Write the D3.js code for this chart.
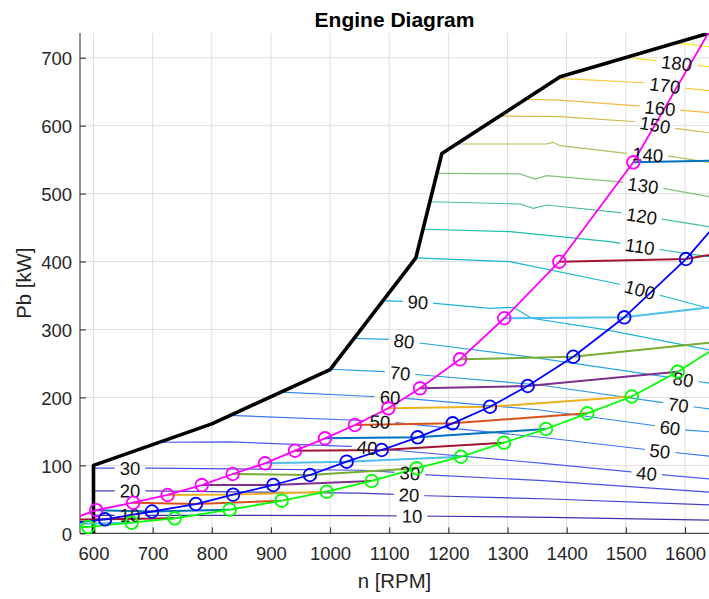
<!DOCTYPE html>
<html>
<head>
<meta charset="utf-8">
<script src="https://cdn.jsdelivr.net/npm/d3@7"></script>
<style>
  body { margin: 0; background: #fff; }
  svg { display: block; }
</style>
</head>
<body>
<svg id="chart" width="709" height="599"></svg>
<script>
// ---------- axis ticks ----------
const xTicks = [600, 700, 800, 900, 1000, 1100, 1200, 1300, 1400, 1500, 1600];
const yTicks = [0, 100, 200, 300, 400, 500, 600, 700];

// ---------- engine limit (black envelope) ----------
const envelopeRpm   = [600, 600, 800, 1000, 1145, 1189, 1389, 1640, 1700];
const envelopePower = [0, 100, 161, 241, 405.5, 559, 672, 736, 751];

// ---------- contour levels and their traced lines ----------
const levels = [10, 20, 30, 40, 50, 60, 70, 80, 90, 100, 110, 120, 130, 140, 150, 160, 170, 180, 190];
const contourRpm = [
  [600, 800, 1050, 1140, 1372, 1640.6],
  [600, 690, 1050, 1133, 1163, 1372, 1640.6],
  [600, 700, 1050, 1135, 1166, 1360, 1640.6],
  [711, 830, 1045, 1100, 1360, 1535, 1640.6],
  [831, 1034, 1084, 1115, 1360, 1541, 1586, 1640.6],
  [918, 1079, 1123, 1355, 1575, 1603, 1640.6],
  [1000, 1093, 1155, 1355, 1589, 1620, 1640.6],
  [1041, 1101, 1155, 1355, 1597, 1625, 1640.6],
  [1089.5, 1148.6, 1177.3, 1270.3, 1309.7, 1340.8, 1467.6, 1640.6],
  [1145, 1304, 1495.7, 1560.6, 1640.6],
  [1157.5, 1304, 1473, 1563, 1640.6],
  [1169, 1321, 1343.5, 1366, 1490, 1562.8, 1640.6],
  [1181, 1321, 1346.4, 1366.2, 1484.5, 1563.3, 1640.6],
  [1214, 1366.2, 1376.8, 1388.7, 1501.4, 1571.3, 1640.6],
  [1288, 1388.6, 1518.4, 1583, 1640.6],
  [1332, 1388.6, 1524, 1591.6, 1640.6],
  [1385, 1532.4, 1602.9, 1640.6],
  [1501.4, 1552.1, 1614, 1640.6],
  [1588, 1640.6]
];
const contourPower = [
  [26.5, 26.5, 26, 25.5, 23.5, 19.5],
  [62.3, 62.5, 59, 56.5, 55.3, 50.5, 41.7],
  [96, 96, 92.8, 88.5, 86, 77.5, 60.5],
  [134, 134.5, 127.5, 123, 103, 88.3, 80],
  [173.6, 166.8, 164.3, 162.4, 141, 122.6, 118.6, 113.7],
  [207.8, 201, 199.1, 181.5, 155.4, 152, 149.5],
  [241.5, 237.9, 233, 218.3, 188.9, 185.5, 183],
  [287, 285.5, 279.7, 257.6, 226.7, 223.1, 221],
  [342.4, 340.4, 338.5, 331.2, 332.6, 316.5, 299.3, 269.9],
  [405.5, 399.8, 365.5, 349.7, 331.2],
  [447.5, 443.9, 429.2, 417, 407.1],
  [488, 484.7, 478.4, 483.2, 471.9, 462.2, 451.3],
  [529.9, 528.9, 521.5, 526.4, 517.5, 507.8, 495.4],
  [573, 573, 575.5, 570.5, 559.3, 555.4, 546.1],
  [614.2, 613.2, 605.8, 596.1, 589.6],
  [638.8, 637.7, 628.9, 623, 619.1],
  [669.7, 663.2, 655, 651.5],
  [700.6, 695.6, 689.3, 686.8],
  [721.5, 716.2]
];
// speed (rpm) at which each contour carries its inline value label
const labelRpm = [
  [661.7, 1138.5], [661.7, 1133.4], [661.7, 1135],
  [1062.4, 1535.3], [1084.4, 1557.8], [1101.3, 1574.7], [1118.2, 1588.7], [1125, 1597],
  [1148.6], [1523.9], [1523.9], [1526.8], [1529], [1537], [1549.3], [1557.8], [1566.2], [1586], []
];

// ---------- propeller curves (points share a speed step across the three curves) ----------
const speedStep  = [3, 4, 5, 6, 7, 8, 9, 10, 11, 12, 13, 14, 15, 16, 17, 18, 19, 20, 21, 22];
const pinkRpm    = [380, 440, 500, 560, 604.7, 667, 725.2, 783, 835.3, 890, 940.7, 991.4, 1042, 1098.4, 1152, 1219.6, 1294.5, 1387.5, 1512.6, 1660];
const pinkPower  = [2, 5, 9, 20, 34, 45, 56.4, 71, 87.3, 103, 121.6, 139.8, 159.4, 184, 213.4, 256.1, 316.5, 399.8, 546.1, 767];
const blueRpm    = [410, 475, 545, 619.6, 698.9, 773, 836, 904, 966, 1028, 1087.2, 1148, 1207.3, 1270.3, 1334, 1411.1, 1497.4, 1601.7, 1747, 1915];
const bluePower  = [4.5, 8, 13.5, 20.6, 32.1, 43.1, 57, 71.1, 85.8, 105.4, 122.6, 141.3, 161.9, 186.3, 216.8, 259.9, 317.9, 403.7, 550, 772];
const greenRpm   = [520, 591.2, 664.6, 737.3, 830.3, 918.2, 994.3, 1070.3, 1146.4, 1221.3, 1294, 1365, 1434.8, 1509.9, 1587.7, 1670, 1786, 1915, 2087, 2290];
const greenPower = [5, 9.5, 15.6, 22.1, 34.8, 48, 61.2, 77, 95.7, 112.7, 133.4, 153.5, 176.6, 201.4, 237.9, 283, 347, 452, 611, 860];

// ---------- layout & styles ----------
const W = 709, H = 599;
const area = { left: 80, right: 709, top: 33, bottom: 533.3 };
const FONT = '"Liberation Sans", Arial, Helvetica, sans-serif';
const INK = '#262626';
const colorOrder = ['#0072BD', '#D95319', '#EDB120', '#7E2F8E', '#77AC30', '#4DBEEE', '#A2142F'];
const levelColor = d3.scaleLinear()
  .domain([10, 20, 30, 40, 50, 60, 70, 80, 90, 100, 110, 120, 130, 140, 150, 160, 170, 180, 190])
  .range(['#3b33a8', '#4340c8', '#4a4fe0', '#4a5ef0', '#3c72f5', '#3088ee', '#2b9ae6', '#25a6e0', '#1ab2d8',
          '#18b6d2', '#1fbcb0', '#4cc195', '#82c27a', '#b1bf5c', '#d6b84a', '#f3b942', '#fcc83a', '#f7dc2a', '#f6f01b']);

const x = d3.scaleLinear().domain([577.2, 1640.6]).range([area.left, area.right]);
const y = d3.scaleLinear().domain([0, 736.4]).range([area.bottom, area.top]);
const line = d3.line().x(d => x(d[0])).y(d => y(d[1]));
const zip = (a, b) => a.map((v, i) => [v, b[i]]);

const svg = d3.select('#chart');
const defs = svg.append('defs');
defs.append('clipPath').attr('id', 'plotClip')
  .append('rect')
  .attr('x', area.left).attr('y', area.top)
  .attr('width', area.right - area.left).attr('height', area.bottom - area.top);
const gapMask = defs.append('mask').attr('id', 'labelGaps')
  .attr('maskUnits', 'userSpaceOnUse')
  .attr('x', 0).attr('y', 0).attr('width', W).attr('height', H);
gapMask.append('rect').attr('x', 0).attr('y', 0).attr('width', W).attr('height', H).attr('fill', '#fff');

// ---------- grid ----------
const grid = svg.append('g').attr('stroke', '#dfdfdf').attr('stroke-width', 1);
grid.selectAll('line.v').data(xTicks).join('line').attr('class', 'v')
  .attr('x1', d => x(d)).attr('x2', d => x(d)).attr('y1', area.top).attr('y2', area.bottom);
grid.selectAll('line.h').data(yTicks).join('line').attr('class', 'h')
  .attr('x1', area.left).attr('x2', area.right).attr('y1', d => y(d)).attr('y2', d => y(d));

// ---------- axes ----------
const styleAxis = g => {
  g.select('.domain').remove();
  g.attr('font-family', FONT).attr('font-size', 18.5);
  g.selectAll('.tick line').attr('stroke', INK);
  g.selectAll('.tick text').attr('fill', INK);
};
svg.append('g')
  .attr('transform', `translate(0,${area.bottom})`)
  .call(d3.axisBottom(x).tickValues(xTicks).tickSize(-6).tickPadding(13.5).tickFormat(d3.format('d')))
  .call(styleAxis);
svg.append('g')
  .attr('transform', `translate(${area.left},0)`)
  .call(d3.axisLeft(y).tickValues(yTicks).tickSize(-6).tickPadding(8).tickFormat(d3.format('d')))
  .call(styleAxis)
  .call(g => g.selectAll('.tick text').attr('dy', '0.38em'));
svg.append('line').attr('x1', area.left).attr('x2', area.left).attr('y1', area.top).attr('y2', area.bottom)
  .attr('stroke', INK).attr('stroke-width', 1);
svg.append('line').attr('x1', area.left).attr('x2', area.right).attr('y1', area.bottom).attr('y2', area.bottom)
  .attr('stroke', INK).attr('stroke-width', 1);

// ---------- plot contents ----------
const plot = svg.append('g').attr('clip-path', 'url(#plotClip)');

// contour lines, broken where their labels sit
const contourG = plot.append('g').attr('mask', 'url(#labelGaps)').attr('fill', 'none').attr('stroke-width', 1.2);
levels.forEach((lv, i) => {
  contourG.append('path')
    .attr('d', line(zip(contourRpm[i], contourPower[i])))
    .attr('stroke', levelColor(lv));
});

// contour value labels
const labelG = svg.append('g').attr('font-family', FONT).attr('font-size', 18.5).attr('fill', '#111');
levels.forEach((lv, i) => {
  const along = d3.scaleLinear().domain(contourRpm[i]).range(contourPower[i]);
  labelRpm[i].forEach(n => {
    const px = x(n), py = y(along(n));
    const dx = x(n + 14) - x(n - 14);
    const dy = y(along(n + 14)) - y(along(n - 14));
    const ang = Math.atan2(dy, dx) * 180 / Math.PI;
    const t = labelG.append('text')
      .attr('transform', `translate(${px},${py}) rotate(${ang})`)
      .attr('text-anchor', 'middle').attr('dy', '0.36em')
      .text(lv);
    const w = t.node().getComputedTextLength();
    gapMask.append('rect')
      .attr('transform', `translate(${px},${py}) rotate(${ang})`)
      .attr('x', -w / 2 - 5).attr('y', -7.5).attr('width', w + 10).attr('height', 15)
      .attr('fill', '#000');
  });
});

// engine limit envelope
plot.append('path')
  .attr('d', line(zip(envelopeRpm, envelopePower)))
  .attr('fill', 'none').attr('stroke', '#000').attr('stroke-width', 3.6)
  .attr('stroke-linejoin', 'round');

// constant speed-step lines joining the three curves
const stepG = plot.append('g').attr('fill', 'none').attr('stroke-width', 2);
speedStep.forEach((k, i) => {
  stepG.append('path')
    .attr('d', line([[pinkRpm[i], pinkPower[i]], [blueRpm[i], bluePower[i]], [greenRpm[i], greenPower[i]]]))
    .attr('stroke', colorOrder[k % 7]);
});

// propeller curves with markers
const curves = [
  { rpm: pinkRpm,  pow: pinkPower,  color: '#ff00ff' },
  { rpm: blueRpm,  pow: bluePower,  color: '#0000ff' },
  { rpm: greenRpm, pow: greenPower, color: '#00ff00' }
];
const inside = d => d[0] >= x.domain()[0] && d[0] <= x.domain()[1] && d[1] >= y.domain()[0] && d[1] <= y.domain()[1];
curves.forEach(c => {
  const pts = zip(c.rpm, c.pow);
  plot.append('path').attr('d', line(pts))
    .attr('fill', 'none').attr('stroke', c.color).attr('stroke-width', 1.8);
  svg.append('g').selectAll('circle').data(pts.filter(inside)).join('circle')
    .attr('cx', d => x(d[0])).attr('cy', d => y(d[1])).attr('r', 6.3)
    .attr('fill', 'none').attr('stroke', c.color).attr('stroke-width', 1.8);
});

// ---------- titles ----------
svg.append('text')
  .attr('x', (area.left + area.right) / 2).attr('y', 27)
  .attr('text-anchor', 'middle').attr('font-family', FONT).attr('font-size', 21)
  .attr('font-weight', 'bold').attr('fill', '#000')
  .text('Engine Diagram');
svg.append('text')
  .attr('x', (area.left + area.right) / 2).attr('y', 588)
  .attr('text-anchor', 'middle').attr('font-family', FONT).attr('font-size', 20.35).attr('fill', INK)
  .text('n [RPM]');
svg.append('text')
  .attr('transform', `translate(31,${(area.top + area.bottom) / 2}) rotate(-90)`)
  .attr('text-anchor', 'middle').attr('font-family', FONT).attr('font-size', 20.35).attr('fill', INK)
  .text('Pb [kW]');
</script>
</body>
</html>
